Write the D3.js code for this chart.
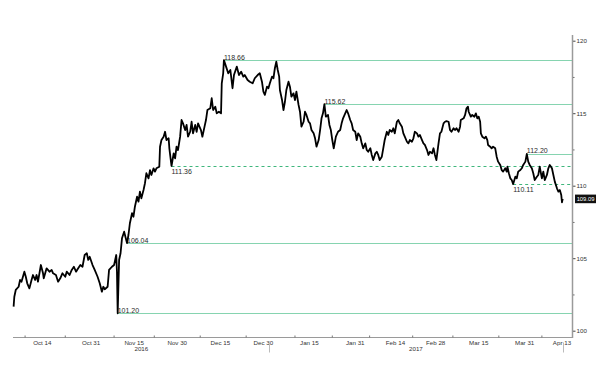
<!DOCTYPE html>
<html>
<head>
<meta charset="utf-8">
<script src="https://cdn.jsdelivr.net/npm/d3@7"></script>
<style>
  html, body { margin: 0; padding: 0; background: #fff; }
  svg { display: block; }
  text { font-family: "Liberation Sans", Arial, sans-serif; }
</style>
</head>
<body>
<svg id="chart" width="600" height="373"></svg>
<script>
// ---------------- DATA ----------------
const times = [
"2016-10-04T00","2016-10-04T06","2016-10-04T18","2016-10-05T18","2016-10-06T06","2016-10-06T18","2016-10-07T18","2016-10-08T06","2016-10-08T18","2016-10-09T12",
"2016-10-10T06","2016-10-10T18","2016-10-11T12","2016-10-12T00","2016-10-12T12","2016-10-13T12","2016-10-14T06","2016-10-14T12","2016-10-15T12","2016-10-16T12",
"2016-10-17T06","2016-10-17T18","2016-10-18T18","2016-10-19T12","2016-10-20T06","2016-10-21T00","2016-10-22T00","2016-10-22T12","2016-10-23T12","2016-10-24T06",
"2016-10-25T00","2016-10-25T18","2016-10-26T12","2016-10-27T06","2016-10-28T00","2016-10-28T18","2016-10-29T12","2016-10-30T00","2016-10-30T12","2016-10-31T12",
"2016-11-01T06","2016-11-02T06","2016-11-03T00","2016-11-03T18","2016-11-04T06","2016-11-04T18","2016-11-05T18","2016-11-06T06","2016-11-07T06","2016-11-08T00",
"2016-11-08T18","2016-11-09T00","2016-11-09T06","2016-11-09T18","2016-11-10T06","2016-11-10T18","2016-11-11T12","2016-11-12T12","2016-11-13T00","2016-11-13T12",
"2016-11-14T06","2016-11-14T18","2016-11-15T06","2016-11-16T00","2016-11-16T12","2016-11-17T00","2016-11-17T12","2016-11-18T06","2016-11-18T18","2016-11-19T06",
"2016-11-20T00","2016-11-20T12","2016-11-21T00","2016-11-21T18","2016-11-22T06","2016-11-22T18","2016-11-23T18","2016-11-24T00","2016-11-24T12","2016-11-25T06",
"2016-11-25T18","2016-11-26T06","2016-11-27T00","2016-11-27T06","2016-11-27T18","2016-11-28T00","2016-11-28T18","2016-11-29T06","2016-11-29T18","2016-11-30T06",
"2016-12-01T00","2016-12-01T12","2016-12-02T00","2016-12-02T18","2016-12-03T06","2016-12-03T18","2016-12-04T12","2016-12-05T00","2016-12-05T12","2016-12-06T06",
"2016-12-06T18","2016-12-07T06","2016-12-08T06","2016-12-08T18","2016-12-09T12","2016-12-10T00","2016-12-10T12","2016-12-11T12","2016-12-12T00","2016-12-12T12",
"2016-12-13T06","2016-12-13T18","2016-12-14T12","2016-12-15T06","2016-12-15T12","2016-12-16T00","2016-12-16T06","2016-12-17T00","2016-12-17T18","2016-12-18T12",
"2016-12-19T06","2016-12-19T18","2016-12-20T18","2016-12-21T12","2016-12-22T06","2016-12-23T00","2016-12-23T12","2016-12-24T12","2016-12-25T06","2016-12-26T06",
"2016-12-27T00","2016-12-28T00","2016-12-28T18","2016-12-29T12","2016-12-30T00","2016-12-30T12","2016-12-31T06","2016-12-31T18","2017-01-01T06","2017-01-02T00",
"2017-01-02T12","2017-01-03T00","2017-01-03T12","2017-01-04T00","2017-01-04T12","2017-01-04T18","2017-01-05T12","2017-01-06T00","2017-01-06T12","2017-01-07T00",
"2017-01-07T18","2017-01-08T06","2017-01-08T18","2017-01-09T12","2017-01-10T00","2017-01-10T12","2017-01-11T06","2017-01-11T18","2017-01-12T06","2017-01-13T00",
"2017-01-13T12","2017-01-14T00","2017-01-14T18","2017-01-15T06","2017-01-15T18","2017-01-16T12","2017-01-17T00","2017-01-17T12","2017-01-18T06","2017-01-18T18",
"2017-01-19T06","2017-01-19T18","2017-01-20T06","2017-01-20T18","2017-01-21T12","2017-01-22T00","2017-01-22T12","2017-01-23T00","2017-01-23T12","2017-01-24T06",
"2017-01-25T00","2017-01-25T18","2017-01-26T06","2017-01-26T18","2017-01-27T12","2017-01-28T00","2017-01-28T12","2017-01-29T06","2017-01-29T18","2017-01-30T06",
"2017-01-31T00","2017-01-31T12","2017-02-01T00","2017-02-01T18","2017-02-02T06","2017-02-02T18","2017-02-03T12","2017-02-04T00","2017-02-04T12","2017-02-05T06",
"2017-02-05T18","2017-02-06T06","2017-02-07T00","2017-02-07T12","2017-02-08T00","2017-02-08T12","2017-02-09T06","2017-02-09T18","2017-02-10T06","2017-02-11T00",
"2017-02-11T12","2017-02-12T00","2017-02-12T18","2017-02-13T06","2017-02-13T18","2017-02-14T12","2017-02-15T00","2017-02-15T12","2017-02-16T06","2017-02-16T18",
"2017-02-17T06","2017-02-18T00","2017-02-18T12","2017-02-19T00","2017-02-19T18","2017-02-20T06","2017-02-20T18","2017-02-21T12","2017-02-22T00","2017-02-22T12",
"2017-02-23T06","2017-02-23T18","2017-02-24T06","2017-02-25T00","2017-02-25T12","2017-02-26T00","2017-02-26T18","2017-02-27T06","2017-02-27T18","2017-02-28T06",
"2017-03-01T00","2017-03-01T12","2017-03-02T00","2017-03-02T18","2017-03-03T06","2017-03-03T18","2017-03-04T12","2017-03-05T00","2017-03-05T12","2017-03-06T06",
"2017-03-06T18","2017-03-07T06","2017-03-08T00","2017-03-08T12","2017-03-08T18","2017-03-09T18","2017-03-10T06","2017-03-10T18","2017-03-11T06","2017-03-11T12",
"2017-03-12T06","2017-03-12T18","2017-03-13T12","2017-03-14T00","2017-03-14T12","2017-03-15T00","2017-03-15T12","2017-03-15T18","2017-03-16T06","2017-03-17T00",
"2017-03-17T12","2017-03-18T00","2017-03-18T06","2017-03-19T00","2017-03-19T12","2017-03-20T00","2017-03-20T18","2017-03-21T06","2017-03-21T18","2017-03-22T12",
"2017-03-23T00","2017-03-23T12","2017-03-24T06","2017-03-24T18","2017-03-25T00","2017-03-25T12","2017-03-26T00","2017-03-26T12","2017-03-27T00","2017-03-27T18",
"2017-03-28T06","2017-03-28T18","2017-03-29T12","2017-03-30T00","2017-03-30T12","2017-03-31T06","2017-03-31T18","2017-04-01T06","2017-04-01T18","2017-04-02T12",
"2017-04-03T00","2017-04-03T12","2017-04-04T06","2017-04-04T18","2017-04-05T06","2017-04-06T00","2017-04-06T12","2017-04-07T00","2017-04-07T18","2017-04-08T06",
"2017-04-08T18","2017-04-09T12","2017-04-10T00","2017-04-10T12","2017-04-11T06","2017-04-11T18","2017-04-12T06","2017-04-12T18","2017-04-13T00","2017-04-13T06"
];
const prices = [
101.66,102.34,102.81,103.03,103.50,103.38,104.07,103.72,103.27,102.92,
103.50,103.84,103.50,103.84,103.38,104.53,103.96,103.61,104.30,104.07,
104.19,103.96,103.84,103.38,103.61,103.96,103.72,104.07,103.84,104.19,
104.41,104.07,104.30,104.53,104.41,105.22,105.34,104.88,105.10,104.53,
104.19,103.72,103.27,102.69,103.03,102.86,103.03,104.19,104.41,104.53,
105.22,104.07,101.20,104.88,105.34,106.37,106.83,106.04,106.60,107.41,
108.10,107.86,108.55,109.24,108.90,109.59,109.13,109.70,110.17,110.86,
110.51,111.08,110.74,111.20,110.97,111.20,111.31,112.69,113.15,113.38,
113.72,113.15,113.27,112.58,111.77,111.36,112.23,111.89,112.69,112.46,
113.38,114.53,114.30,113.84,114.19,113.38,113.72,114.41,113.61,114.19,
113.72,114.30,113.84,113.38,114.07,114.53,115.22,115.34,116.03,115.22,
115.45,114.99,115.10,114.99,117.06,117.75,118.66,118.21,117.75,117.98,
116.72,117.63,118.21,117.63,117.86,117.52,117.63,117.29,117.17,117.06,
117.41,117.63,117.75,117.17,116.48,116.26,116.83,116.72,117.06,117.52,
117.41,118.10,118.55,117.98,117.52,116.60,115.91,115.22,115.79,116.60,
117.17,116.83,116.14,116.37,115.91,116.48,115.57,115.10,114.07,114.41,
115.10,114.88,114.41,114.30,113.84,113.61,113.27,112.69,113.15,113.84,
114.65,114.99,115.62,114.76,114.88,114.19,113.84,113.15,112.58,113.38,
113.72,113.84,114.30,114.65,114.99,115.22,114.99,114.53,114.30,113.84,
113.72,113.15,113.61,113.38,112.92,112.58,112.92,112.46,112.34,112.58,
112.12,111.77,112.23,112.34,112.12,111.77,112.00,112.58,113.15,113.72,
113.50,113.84,113.72,113.96,113.61,114.41,114.53,114.30,114.07,113.61,
113.38,113.03,112.92,113.15,113.03,113.27,113.72,113.61,113.38,113.50,
113.15,112.92,112.81,112.46,112.12,112.34,112.23,112.58,112.12,111.77,
112.92,113.61,113.72,114.30,114.41,114.45,114.41,113.84,113.72,113.96,
113.84,113.96,113.72,114.07,114.53,114.65,114.88,115.34,115.45,115.10,
114.76,114.88,114.76,114.99,114.65,114.76,114.41,113.61,113.38,113.27,
113.38,113.15,112.81,112.69,112.58,112.69,112.58,112.00,111.66,111.43,
111.08,110.97,111.20,110.97,111.31,110.86,110.51,110.39,110.11,110.62,
110.51,110.97,111.08,111.20,111.43,111.66,112.20,111.66,111.43,111.20,
110.86,110.39,110.62,110.74,111.31,110.51,110.97,110.39,110.74,111.20,
111.43,111.20,110.74,110.28,109.82,109.59,109.70,109.36,108.85,109.09
];
const lastPrice = 109.09;

const levels      = [118.66, 115.62, 112.20, 111.36, 110.11, 106.04, 101.20];
const levelStarts = ["2016-12-16T06","2017-01-20T06","2017-03-31T18","2016-11-28T00","2017-03-27T00","2016-11-12T12","2016-11-09T06"];

const yTicks      = [100, 105, 110, 115, 120];
const yMinorTicks = [102.5, 107.5, 112.5, 117.5];

const xLabelDates = ["2016-10-14","2016-10-31","2016-11-15","2016-11-30","2016-12-15","2016-12-30","2017-01-15","2017-01-31","2017-02-14","2017-02-28","2017-03-15","2017-03-31","2017-04-13"];
const xLabels     = ["Oct 14","Oct 31","Nov 15","Nov 30","Dec 15","Dec 30","Jan 15","Jan 31","Feb 14","Feb 28","Mar 15","Mar 31","Apr 13"];
const xTickDates  = ["2016-10-08","2016-10-22","2016-11-08","2016-11-22","2016-12-08","2016-12-24","2017-01-10","2017-01-23","2017-02-05","2017-02-20","2017-03-06","2017-03-22","2017-04-06"];
const years       = ["2016","2017"];
const yearBounds  = ["2016-10-04T00","2017-01-01T00","2017-04-13T06"];

// ---------------- CHART ----------------
const parseT = d3.utcParse("%Y-%m-%dT%H");
const parseD = d3.utcParse("%Y-%m-%d");
const data = times.map((t, i) => ({ t: parseT(t), v: prices[i] }));

const svg = d3.select("#chart");
const axisX = 572.5, plotLeft = 13, baseY = 337.5;

const x = d3.scaleUtc()
  .domain([parseT(yearBounds[0]), parseT(yearBounds[2])])
  .range([13.6, 562.7]);
const y = d3.scaleLinear().domain([100, 120]).range([330.7, 40.7]);

const dashed = new Set([111.36, 110.11]);

// level lines
const lv = svg.append("g");
levels.forEach((L, i) => {
  const isDash = dashed.has(L);
  const x0 = x(parseT(levelStarts[i]));
  lv.append("line")
    .attr("x1", x0).attr("x2", axisX)
    .attr("y1", Math.round(y(L)) + 0.5).attr("y2", Math.round(y(L)) + 0.5)
    .attr("stroke", isDash ? "#3fb67c" : "#86d4b0")
    .attr("stroke-width", 1)
    .attr("stroke-dasharray", isDash ? "3,3" : null);
  lv.append("text")
    .attr("x", x0)
    .attr("y", isDash ? y(L) + 7.8 : y(L) - 0.6)
    .attr("font-size", 7)
    .attr("fill", "#2a2a2a")
    .text(L.toFixed(2));
});

// price line
svg.append("path")
  .datum(data)
  .attr("fill", "none")
  .attr("stroke", "#000")
  .attr("stroke-width", 1.8)
  .attr("stroke-linejoin", "round")
  .attr("d", d3.line().x(d => x(d.t)).y(d => y(d.v)));

// right axis
const ra = svg.append("g").attr("transform", `translate(${axisX},0)`);
ra.call(d3.axisRight(y).tickValues(yTicks).tickSize(3).tickPadding(1).tickFormat(d3.format("d")));
ra.select(".domain").remove();
ra.selectAll(".tick line").attr("stroke", "#444");
ra.selectAll(".tick text").attr("font-size", 6.2).attr("fill", "#333")
  .attr("font-family", "Liberation Sans, Arial, sans-serif");
const rm = svg.append("g").attr("transform", `translate(${axisX},0)`);
rm.call(d3.axisRight(y).tickValues(yMinorTicks).tickSize(2).tickFormat(""));
rm.select(".domain").remove();
rm.selectAll(".tick line").attr("stroke", "#666");
svg.append("line").attr("x1", axisX).attr("x2", axisX).attr("y1", 35).attr("y2", baseY + 0.5)
  .attr("stroke", "#9a9a9a").attr("stroke-width", 1.5);

// last price tag
const lp = svg.append("g");
lp.append("rect").attr("x", 575).attr("y", y(lastPrice) - 4.3).attr("width", 21).attr("height", 8.6).attr("fill", "#111");
lp.append("text").attr("x", 585.5).attr("y", y(lastPrice) + 2.1).attr("text-anchor", "middle")
  .attr("font-size", 5.8).attr("fill", "#fff").text(lastPrice.toFixed(2));

// bottom axis
const bx = svg.append("g");
bx.append("line").attr("x1", plotLeft).attr("x2", axisX).attr("y1", baseY).attr("y2", baseY)
  .attr("stroke", "#9a9a9a").attr("stroke-width", 1);
bx.selectAll("line.tk").data(xTickDates).join("line").attr("class", "tk")
  .attr("x1", d => x(parseD(d))).attr("x2", d => x(parseD(d)))
  .attr("y1", baseY - 2).attr("y2", baseY).attr("stroke", "#777");
bx.selectAll("text.lb").data(xLabels).join("text").attr("class", "lb")
  .attr("x", (d, i) => x(parseD(xLabelDates[i])))
  .attr("y", baseY + 7.5).attr("text-anchor", "middle")
  .attr("font-size", 6.2).attr("fill", "#333").text(d => d);
years.forEach((yr, i) => {
  const a = x(parseT(yearBounds[i])), b = x(parseT(yearBounds[i + 1]));
  bx.append("text").attr("x", (a + b) / 2).attr("y", baseY + 13.5).attr("text-anchor", "middle")
    .attr("font-size", 6.2).attr("fill", "#333").text(yr);
  bx.append("line").attr("x1", Math.round(b) + 0.5).attr("x2", Math.round(b) + 0.5)
    .attr("y1", baseY + 5).attr("y2", baseY + 15).attr("stroke", "#bbb");
});
</script>
</body>
</html>
